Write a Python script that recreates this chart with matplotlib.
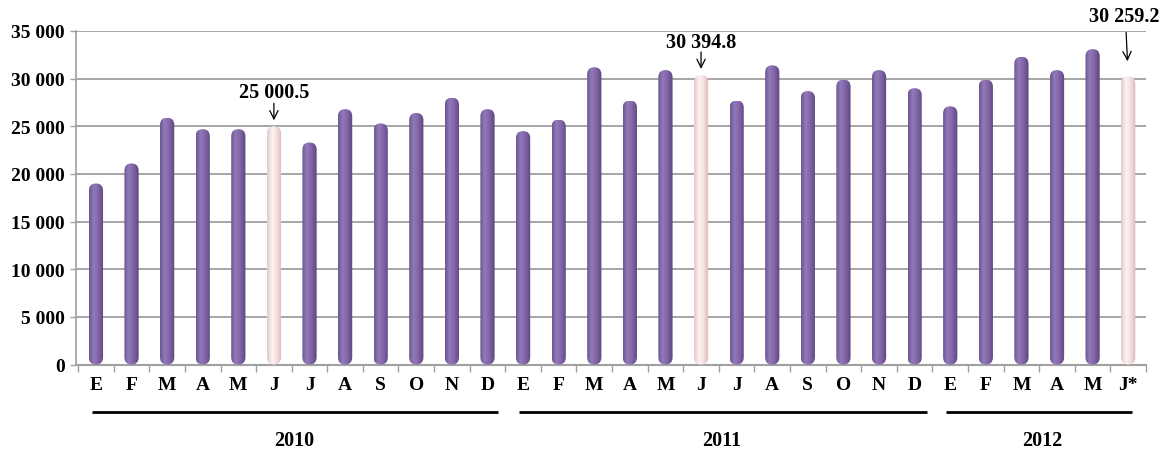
import matplotlib
matplotlib.use('Agg')
import matplotlib.pyplot as plt
import matplotlib.transforms as mtransforms
from matplotlib.patches import FancyBboxPatch
from matplotlib.colors import LinearSegmentedColormap
import numpy as np

# data
months = ['E', 'F', 'M', 'A', 'M', 'J', 'J', 'A', 'S', 'O', 'N', 'D',
          'E', 'F', 'M', 'A', 'M', 'J', 'J', 'A', 'S', 'O', 'N', 'D',
          'E', 'F', 'M', 'A', 'M', 'J*']
values = [19000, 21100, 25900, 24700, 24700, 25000.5, 23300, 26800, 25300, 26400, 28000, 26800,
          24500, 25700, 31200, 27700, 30900, 30394.8, 27700, 31400, 28700, 29900, 30900, 29000,
          27100, 29900, 32300, 30900, 33100, 30259.2]
highlight = [5, 17, 29]
callouts = ['25 000.5', '30 394.8', '30 259.2']
years = ['2010', '2011', '2012']
year_first = [0, 12, 24]
year_last = [11, 23, 29]
yticks = [0, 5000, 10000, 15000, 20000, 25000, 30000, 35000]
ytick_labels = ['0', '5 000', '10 000', '15 000', '20 000', '25 000', '30 000', '35 000']

plt.rcParams['font.family'] = ['Liberation Serif', 'DejaVu Serif']
plt.rcParams['font.weight'] = 'bold'

fig = plt.figure(figsize=(11.64, 4.52), dpi=100)
ax = fig.add_axes([76 / 1164, 86.5 / 452, 1070 / 1164, 333.5 / 452])
xlim = (-0.56, 29.5)
ylim = (0, 35000)
ax.set_xlim(xlim)
ax.set_ylim(ylim)

# cylinder look: gradient clipped to a rounded box
purple = LinearSegmentedColormap.from_list('p', [(0, '#6c5590'), (0.3, '#937ab9'), (0.6, '#8367a9'), (1, '#5c467e')])
pink = LinearSegmentedColormap.from_list('k', [(0, '#e3c8c8'), (0.35, '#fdf2f2'), (0.6, '#f7e3e3'), (1, '#d9baba')])
grad = np.linspace(0, 1, 64).reshape(1, -1)

w = 0.4
px_x = 1070 / (xlim[1] - xlim[0])
px_y = 333.5 / (ylim[1] - ylim[0])
aspect = px_x / px_y

for i, v in enumerate(values):
    cm = pink if i in highlight else purple
    p = FancyBboxPatch((i - w / 2, 0), w, v, boxstyle='round,pad=0,rounding_size=%f' % (w / 2),
                       mutation_aspect=aspect, facecolor='none', edgecolor='none', zorder=3)
    ax.add_patch(p)
    im = ax.imshow(grad, cmap=cm, extent=(i - w / 2, i + w / 2, 0, v), aspect='auto',
                   interpolation='bicubic', zorder=3)
    im.set_clip_path(p)

ax.set_xlim(xlim)
ax.set_ylim(ylim)

# callouts with arrows
text_off = [(0, 24.5), (0, 24), (-3, 43)]
arrow_off = [(0, 16.5, 4.3), (0, 16.5, 4.3), (-1.5, 31.5, 10.8)]
for k, i in enumerate(highlight):
    ax.annotate(callouts[k], xy=(i, values[i]), xytext=text_off[k], textcoords='offset points',
                ha='center', va='center', fontsize=14.5, fontweight='bold')
    dx, tail, tip = arrow_off[k]
    ax.annotate('', xy=(i, values[i]), xytext=(dx, tail), textcoords='offset points',
                arrowprops=dict(arrowstyle='->', color='black', lw=0.9, shrinkA=0, shrinkB=tip,
                                mutation_scale=15))

ax.set_yticks(yticks, ytick_labels)
ax.set_xticks(range(len(months)), months)
ax.set_xticks(np.arange(-0.5, len(months), 1), minor=True)
ax.tick_params(axis='x', which='major', length=0, pad=8, labelsize=14)
ax.tick_params(axis='x', which='minor', length=5, color='#a0a0a0', width=1)
ax.tick_params(axis='y', length=4, color='#a0a0a0', width=1, pad=4, labelsize=14)
ax.yaxis.grid(True, color='#a6a6a6', lw=1.4)
ax.set_axisbelow(True)
for s in ['top', 'right']:
    ax.spines[s].set_visible(False)
ax.spines['left'].set_color('#a0a0a0')
ax.spines['bottom'].set_color('#a0a0a0')
ax.spines['left'].set_linewidth(1.2)
ax.spines['bottom'].set_linewidth(1.5)

# year brackets
trans = mtransforms.blended_transform_factory(ax.transData, ax.transAxes)
line_end = [0.3, 0.35, 0.1]
for k, y in enumerate(years):
    a, b = year_first[k], year_last[k]
    ax.plot([a - 0.12, b + line_end[k]], [-0.142, -0.142], transform=trans, color='black',
            lw=2, clip_on=False, solid_capstyle='butt')
    ax.text((a + b) / 2 + 0.08, -0.225, y, transform=trans, ha='center', va='center',
            fontsize=14.5, fontweight='bold')

fig.savefig('out.png', dpi=100)
